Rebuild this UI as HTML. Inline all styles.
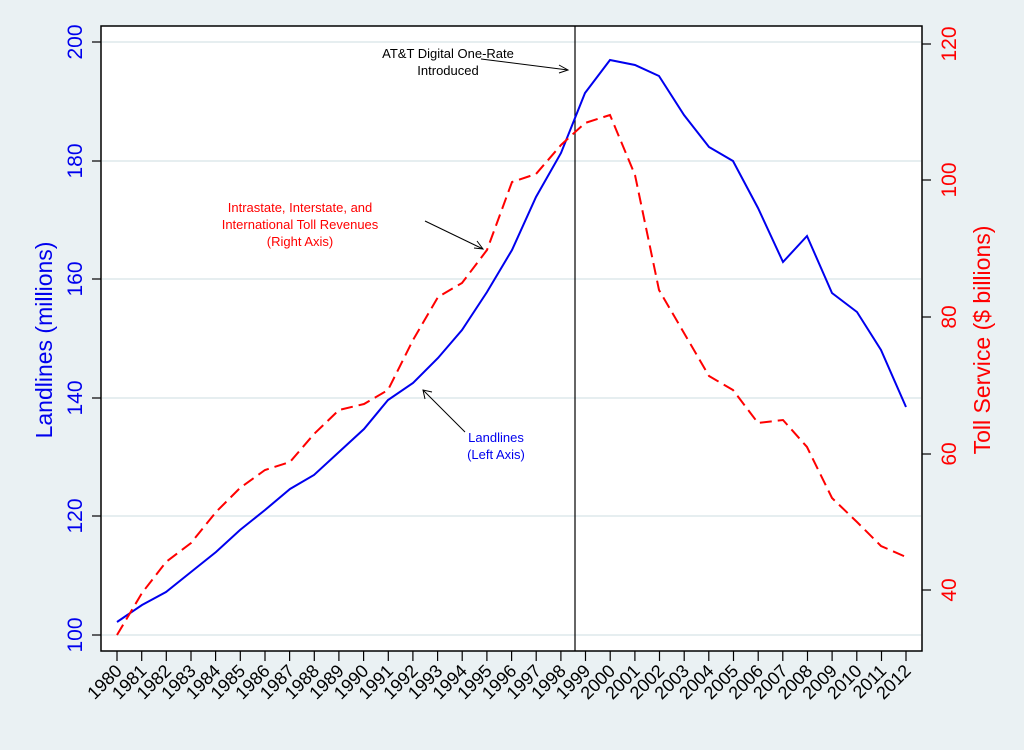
<!DOCTYPE html>
<html><head><style>body{margin:0;background:#eaf1f3}</style></head><body>
<svg width="1024" height="745" xmlns="http://www.w3.org/2000/svg" font-family="Liberation Sans, Arial, sans-serif">
<rect width="1024" height="745" fill="#eaf1f3"/>
<rect x="101" y="26" width="821" height="625" fill="#fff" stroke="#000" stroke-width="1.5"/>
<g stroke="#e6eef0" stroke-width="2">
<line x1="102" x2="921" y1="42" y2="42"/><line x1="102" x2="921" y1="161" y2="161"/><line x1="102" x2="921" y1="279" y2="279"/><line x1="102" x2="921" y1="398" y2="398"/><line x1="102" x2="921" y1="516" y2="516"/><line x1="102" x2="921" y1="635" y2="635"/>
</g>
<g stroke="#000" stroke-width="1.2">
<line x1="92" x2="101" y1="42" y2="42"/><line x1="92" x2="101" y1="161" y2="161"/><line x1="92" x2="101" y1="279" y2="279"/><line x1="92" x2="101" y1="398" y2="398"/><line x1="92" x2="101" y1="516" y2="516"/><line x1="92" x2="101" y1="635" y2="635"/>
<line x1="922" x2="931" y1="44" y2="44"/><line x1="922" x2="931" y1="180" y2="180"/><line x1="922" x2="931" y1="317" y2="317"/><line x1="922" x2="931" y1="454" y2="454"/><line x1="922" x2="931" y1="590" y2="590"/>
<line x1="117" x2="117" y1="651" y2="661"/><line x1="141.7" x2="141.7" y1="651" y2="661"/><line x1="166.3" x2="166.3" y1="651" y2="661"/><line x1="191" x2="191" y1="651" y2="661"/><line x1="215.6" x2="215.6" y1="651" y2="661"/><line x1="240.3" x2="240.3" y1="651" y2="661"/><line x1="265" x2="265" y1="651" y2="661"/><line x1="289.6" x2="289.6" y1="651" y2="661"/><line x1="314.3" x2="314.3" y1="651" y2="661"/><line x1="338.9" x2="338.9" y1="651" y2="661"/><line x1="363.6" x2="363.6" y1="651" y2="661"/><line x1="388.3" x2="388.3" y1="651" y2="661"/><line x1="412.9" x2="412.9" y1="651" y2="661"/><line x1="437.6" x2="437.6" y1="651" y2="661"/><line x1="462.2" x2="462.2" y1="651" y2="661"/><line x1="486.9" x2="486.9" y1="651" y2="661"/><line x1="511.6" x2="511.6" y1="651" y2="661"/><line x1="536.2" x2="536.2" y1="651" y2="661"/><line x1="560.9" x2="560.9" y1="651" y2="661"/><line x1="585.5" x2="585.5" y1="651" y2="661"/><line x1="610.2" x2="610.2" y1="651" y2="661"/><line x1="634.9" x2="634.9" y1="651" y2="661"/><line x1="659.5" x2="659.5" y1="651" y2="661"/><line x1="684.2" x2="684.2" y1="651" y2="661"/><line x1="708.8" x2="708.8" y1="651" y2="661"/><line x1="733.5" x2="733.5" y1="651" y2="661"/><line x1="758.2" x2="758.2" y1="651" y2="661"/><line x1="782.8" x2="782.8" y1="651" y2="661"/><line x1="807.5" x2="807.5" y1="651" y2="661"/><line x1="832.1" x2="832.1" y1="651" y2="661"/><line x1="856.8" x2="856.8" y1="651" y2="661"/><line x1="881.5" x2="881.5" y1="651" y2="661"/><line x1="906" x2="906" y1="651" y2="661"/>
</g>
<g font-size="18" fill="#000" text-anchor="end">
<text transform="translate(123,672) rotate(-45)">1980</text><text transform="translate(147.7,672) rotate(-45)">1981</text><text transform="translate(172.3,672) rotate(-45)">1982</text><text transform="translate(197,672) rotate(-45)">1983</text><text transform="translate(221.6,672) rotate(-45)">1984</text><text transform="translate(246.3,672) rotate(-45)">1985</text><text transform="translate(271,672) rotate(-45)">1986</text><text transform="translate(295.6,672) rotate(-45)">1987</text><text transform="translate(320.3,672) rotate(-45)">1988</text><text transform="translate(344.9,672) rotate(-45)">1989</text><text transform="translate(369.6,672) rotate(-45)">1990</text><text transform="translate(394.3,672) rotate(-45)">1991</text><text transform="translate(418.9,672) rotate(-45)">1992</text><text transform="translate(443.6,672) rotate(-45)">1993</text><text transform="translate(468.2,672) rotate(-45)">1994</text><text transform="translate(492.9,672) rotate(-45)">1995</text><text transform="translate(517.6,672) rotate(-45)">1996</text><text transform="translate(542.2,672) rotate(-45)">1997</text><text transform="translate(566.9,672) rotate(-45)">1998</text><text transform="translate(591.5,672) rotate(-45)">1999</text><text transform="translate(616.2,672) rotate(-45)">2000</text><text transform="translate(640.9,672) rotate(-45)">2001</text><text transform="translate(665.5,672) rotate(-45)">2002</text><text transform="translate(690.2,672) rotate(-45)">2003</text><text transform="translate(714.8,672) rotate(-45)">2004</text><text transform="translate(739.5,672) rotate(-45)">2005</text><text transform="translate(764.2,672) rotate(-45)">2006</text><text transform="translate(788.8,672) rotate(-45)">2007</text><text transform="translate(813.5,672) rotate(-45)">2008</text><text transform="translate(838.1,672) rotate(-45)">2009</text><text transform="translate(862.8,672) rotate(-45)">2010</text><text transform="translate(887.5,672) rotate(-45)">2011</text><text transform="translate(912,672) rotate(-45)">2012</text>
</g>
<g fill="#0000ee" font-size="21" text-anchor="middle">
<text transform="translate(82,42) rotate(-90)">200</text>
<text transform="translate(82,161) rotate(-90)">180</text>
<text transform="translate(82,279) rotate(-90)">160</text>
<text transform="translate(82,398) rotate(-90)">140</text>
<text transform="translate(82,516) rotate(-90)">120</text>
<text transform="translate(82,635) rotate(-90)">100</text>
<text transform="translate(52,340) rotate(-90)" font-size="23">Landlines (millions)</text>
</g>
<g fill="#ff0000" font-size="21" text-anchor="middle">
<text transform="translate(956,44) rotate(-90)">120</text>
<text transform="translate(956,180) rotate(-90)">100</text>
<text transform="translate(956,317) rotate(-90)">80</text>
<text transform="translate(956,454) rotate(-90)">60</text>
<text transform="translate(956,590) rotate(-90)">40</text>
<text transform="translate(990,340) rotate(-90)" font-size="23">Toll Service ($ billions)</text>
</g>
<line x1="575" x2="575" y1="26" y2="651" stroke="#000" stroke-width="1.2"/>
<polyline fill="none" stroke="#0000ee" stroke-width="2" points="117,622 142,605 166,592 191,572 216,552 240,530 265,510 290,489 314,475 339,452 364,429 388,400 413,383 438,358 462,330 487,292 512,250 536,197 561,153 585,93 610,60 635,65 659,76 684,115 709,147 733,161 758,208 783,262 807,236 832,293 857,312 881,350 906,407"/>
<polyline fill="none" stroke="#ff0000" stroke-width="2" stroke-dasharray="12,6" points="117,635 142,593 166,562 191,543 216,512 240,488 265,470 290,462 314,434 339,410 364,404 388,390 413,340 438,297 462,283 487,250 512,182 536,174 561,145 585,123 610,115 635,175 659,290 684,333 709,376 733,390 758,423 783,420 807,447 832,498 857,522 881,546 906,557"/>
<g font-size="13" text-anchor="middle">
<text x="448" y="58">AT&amp;T Digital One-Rate</text><text x="448" y="75">Introduced</text>
<text x="300" y="212" fill="#ff0000">Intrastate, Interstate, and</text>
<text x="300" y="229" fill="#ff0000">International Toll Revenues</text>
<text x="300" y="246" fill="#ff0000">(Right Axis)</text>
<text x="496" y="442" fill="#0000ee">Landlines</text><text x="496" y="459" fill="#0000ee">(Left Axis)</text>
</g>
<g stroke="#000" stroke-width="1" fill="none">
<line x1="481" y1="59" x2="568" y2="70"/><polyline points="559,65 568,70 559,73"/>
<line x1="425" y1="221" x2="483" y2="249"/><polyline points="474,248 483,249 477,241"/>
<line x1="465" y1="432" x2="423" y2="390"/><polyline points="425,399 423,390 432,392"/>
</g>
</svg>
</body></html>
